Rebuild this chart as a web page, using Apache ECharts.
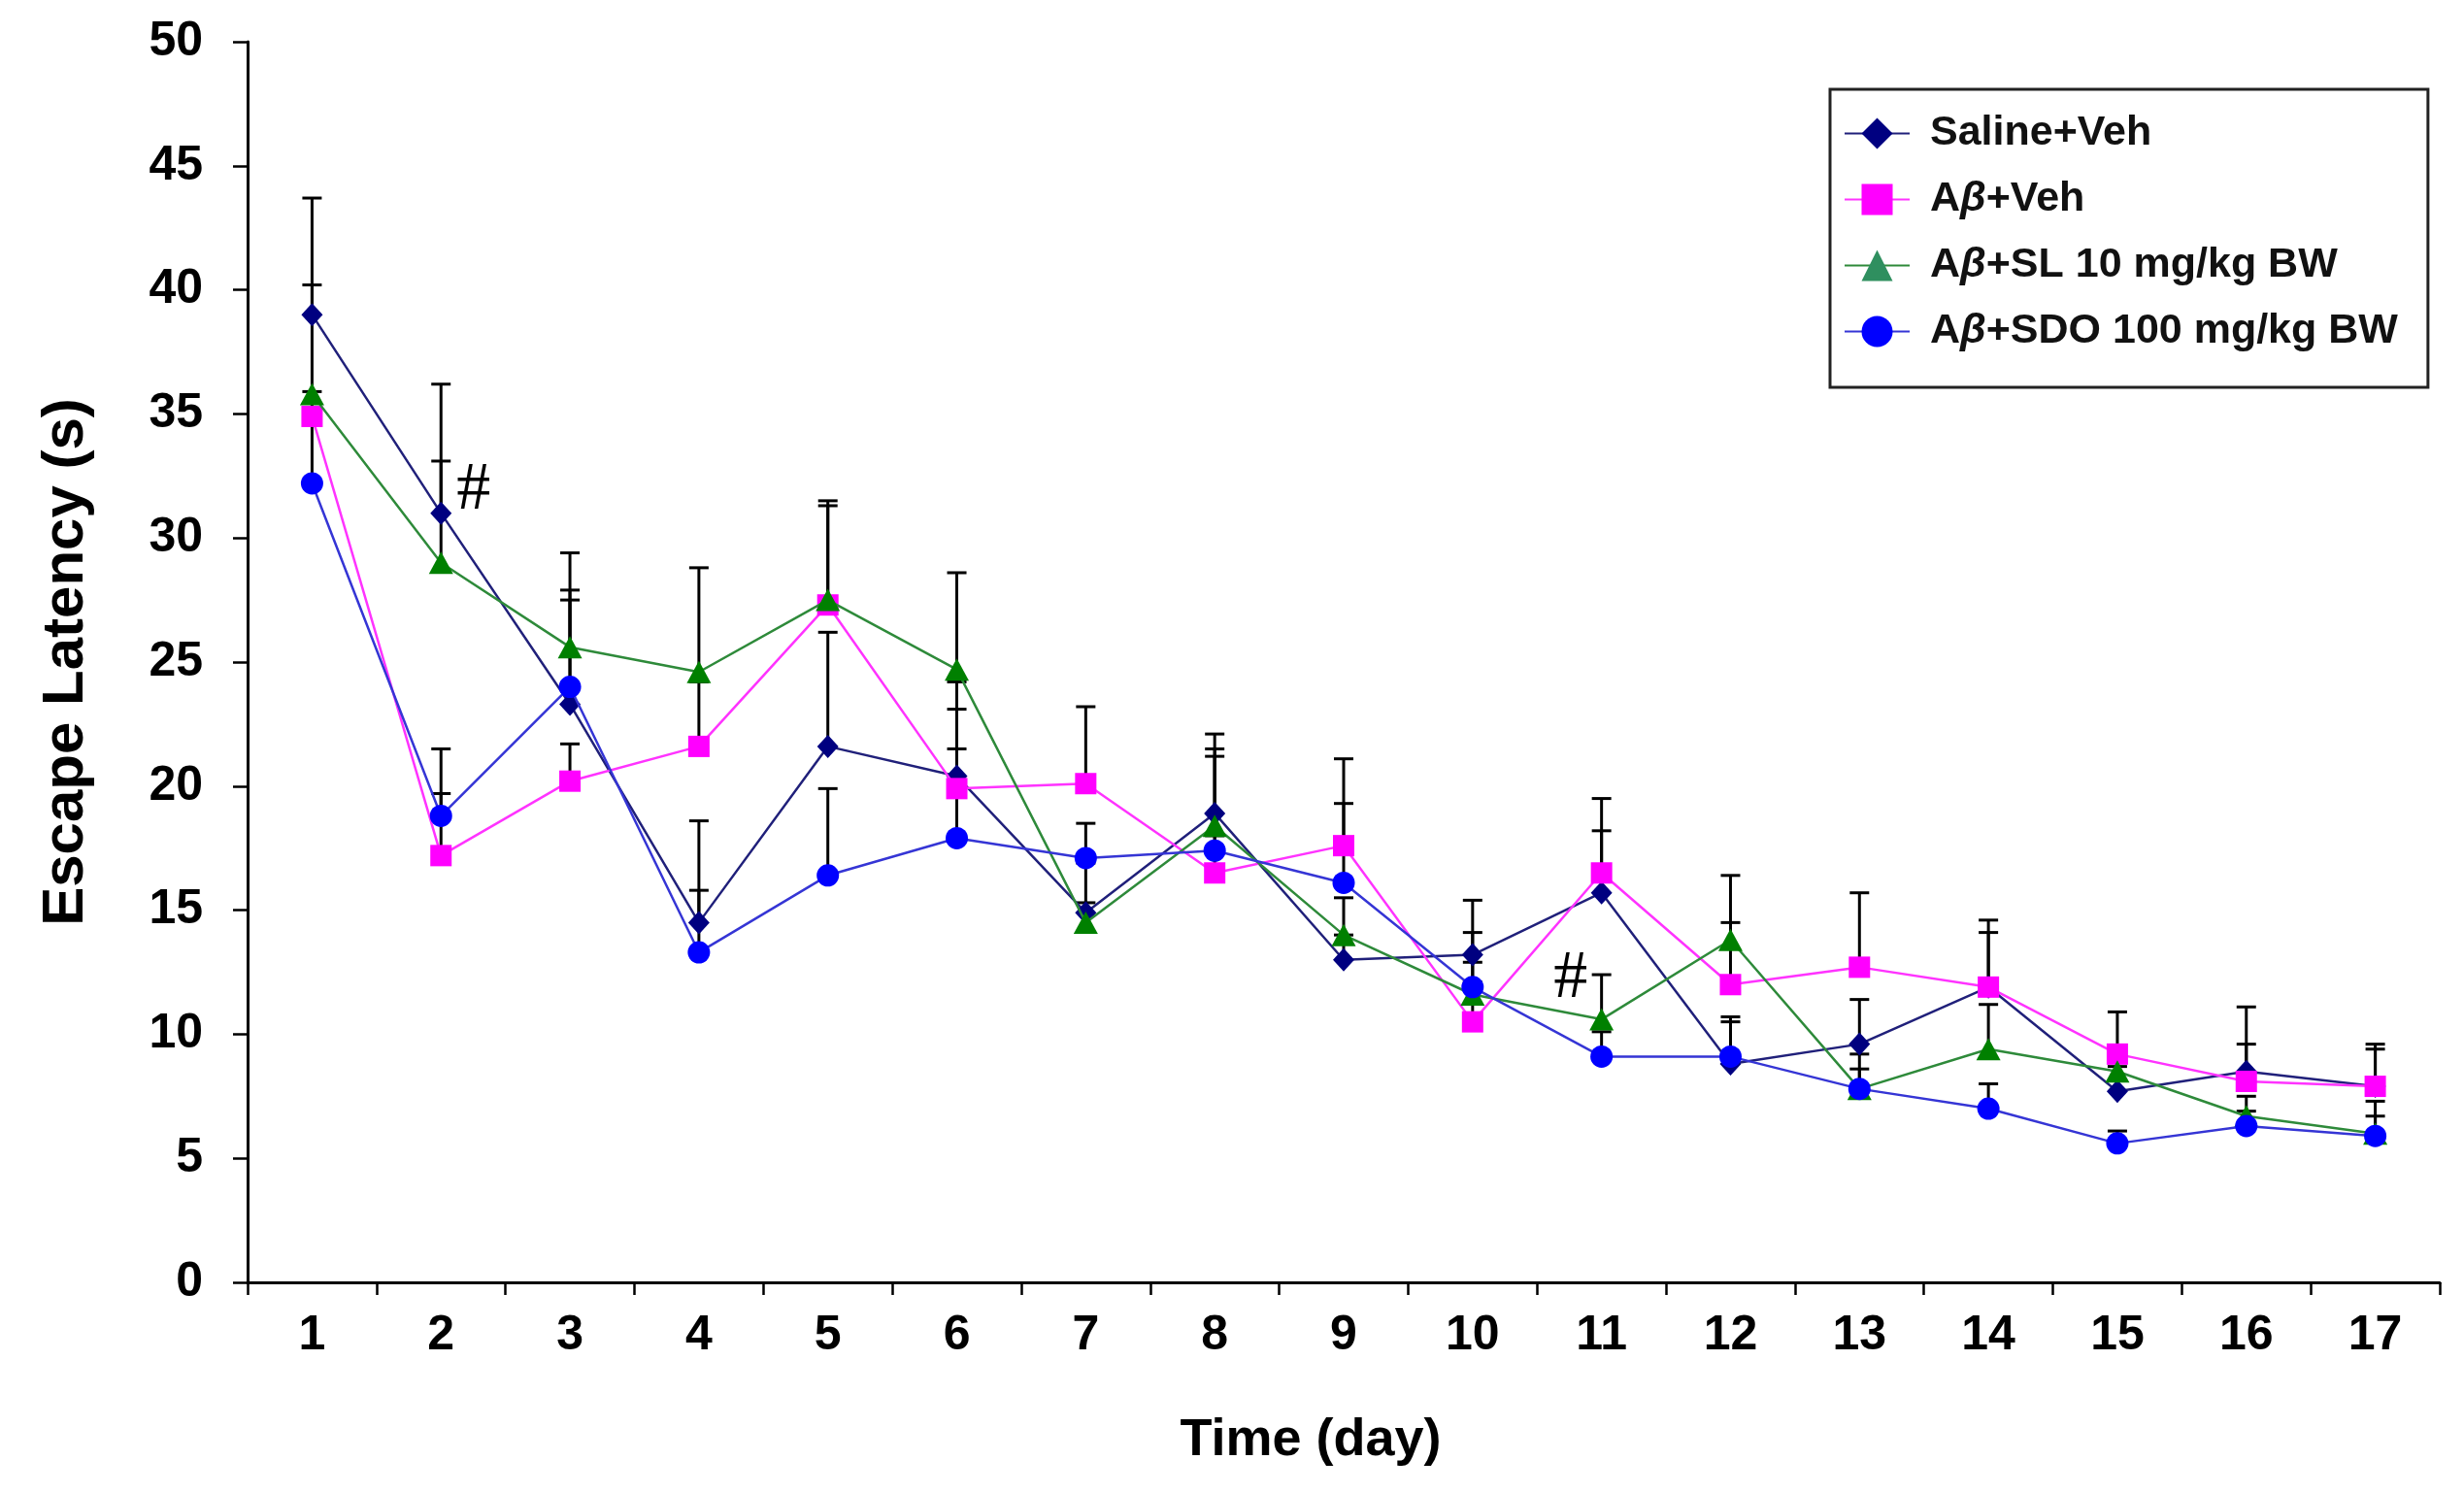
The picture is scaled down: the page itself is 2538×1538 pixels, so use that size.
<!DOCTYPE html>
<html>
<head>
<meta charset="utf-8">
<script src="https://cdn.jsdelivr.net/npm/echarts@6/dist/echarts.min.js"></script>
<style>html,body{margin:0;padding:0;background:#fff}#c{width:2538px;height:1538px}</style>
</head>
<body>
<div id="c"></div>
<script>
const days = ['1','2','3','4','5','6','7','8','9','10','11','12','13','14','15','16','17'];
const seriesNames = ['Saline+Veh', 'Aβ+Veh', 'Aβ+SL 10 mg/kg BW', 'Aβ+SDO 100 mg/kg BW'];
const salineVeh    = [39.0,31.0,23.3,14.5,21.6,20.4,14.9,18.9,13.0,13.2,15.7,8.8,9.6,11.9,7.7,8.5,7.9];
const salineVehErr = [4.7,5.2,4.6,4.1,4.6,2.7,2.0,3.2,1.0,0.9,2.5,1.7,1.8,2.2,1.0,2.6,1.5];
const abVeh        = [34.9,17.2,20.2,21.6,27.3,19.9,20.1,16.5,17.6,10.5,16.5,12.0,12.7,11.9,9.2,8.1,7.9];
const abVehErr     = [1.0,2.5,1.5,2.6,4.0,4.3,3.1,1.5,3.5,4.9,3.0,2.5,3.0,2.7,1.7,1.5,1.7];
const abSL         = [35.8,29.0,25.6,24.6,27.5,24.7,14.5,18.4,14.0,11.6,10.6,13.8,7.8,9.4,8.5,6.7,6.0];
const abSLErr      = [4.4,4.1,3.8,4.2,4.0,3.9,0.8,3.1,1.5,0.5,1.8,2.6,1.4,1.8,1.0,0.8,1.3];
const abSDO        = [32.2,18.8,24.0,13.3,16.4,17.9,17.1,17.4,16.1,11.9,9.1,9.1,7.8,7.0,5.6,6.3,5.9];
const abSDOErr     = [2.5,2.7,3.5,2.5,3.5,3.6,1.4,3.8,3.2,1.0,1.0,1.6,0.8,1.0,0.5,0.6,0.8];
const yTicks = {min: 0, max: 50, interval: 5};
// significance marks: [series index, day index, text]
const marks = [[0, 1, '#'], [2, 10, '#']];

const means = [salineVeh, abVeh, abSL, abSDO];
const errs = [salineVehErr, abVehErr, abSLErr, abSDOErr];
const markerColors = ['#000080', '#FF00FF', '#008000', '#0000FF'];
const legendColors = ['#000080', '#FF00FF', '#2f8f5f', '#0000FF'];
const lineColors = ['#20207a', '#FF33FF', '#2e8a3a', '#3535d5'];
const symbols = ['diamond', 'rect', 'triangle', 'circle'];
const symbolSizes = [[22,24], 22, [25,23], 23];
const markLabelStyle = [
  {position: 'right', offset: [0, -23]},
  null,
  {position: 'left', offset: [3, -41]},
  null
];

const narrow = '"Liberation Sans Narrow", "Liberation Sans", Arial, sans-serif';
const sans = '"Liberation Sans", Arial, sans-serif';

const series = [];
means.forEach((arr, si) => {
  series.push({
    type: 'custom',
    name: 'err' + si,
    silent: true,
    z: 1,
    data: arr.map((v, i) => [i, v, errs[si][i]]),
    renderItem: function (params, api) {
      const x = api.value(0), m = api.value(1), e = api.value(2);
      const p0 = api.coord([x, m]);
      const p1 = api.coord([x, m + e]);
      const st = {stroke: '#000', lineWidth: 3};
      return {
        type: 'group',
        children: [
          {type: 'line', shape: {x1: p0[0], y1: p0[1], x2: p1[0], y2: p1[1]}, style: st},
          {type: 'line', shape: {x1: p1[0] - 10, y1: p1[1], x2: p1[0] + 10, y2: p1[1]}, style: st}
        ]
      };
    }
  });
});
means.forEach((arr, si) => {
  const data = arr.map((v, i) => {
    const mk = marks.find(m => m[0] === si && m[1] === i);
    if (!mk) return v;
    const ls = markLabelStyle[si];
    return {
      value: v,
      label: {
        show: true, formatter: mk[2], position: ls.position, offset: ls.offset,
        fontSize: 70, fontFamily: '"Liberation Serif", serif', color: '#000'
      }
    };
  });
  series.push({
    type: 'line',
    name: seriesNames[si],
    data: data,
    z: 3 + si,
    symbol: symbols[si],
    symbolSize: symbolSizes[si],
    showAllSymbol: true,
    itemStyle: {color: markerColors[si]},
    lineStyle: {color: lineColors[si], width: 2.5},
    emphasis: {disabled: true},
    animation: false
  });
});

const chart = echarts.init(document.getElementById('c'));
chart.setOption({
  animation: false,
  backgroundColor: '#fff',
  grid: {left: 255, right: 25, top: 43, bottom: 217, containLabel: false},
  legend: {
    orient: 'vertical',
    left: 1885, top: 92,
    padding: [24, 31, 36, 14],
    borderColor: '#222', borderWidth: 3,
    backgroundColor: '#fff',
    itemWidth: 67, itemHeight: 40, itemGap: 25,
    data: seriesNames.map((n, i) => ({name: n, itemStyle: {color: legendColors[i]}})),
    selectedMode: false,
    formatter: n => n.replace('β', '{i|β}'),
    textStyle: {
      fontSize: 43, fontWeight: 'bold', fontFamily: sans, color: '#111', lineHeight: 43,
      padding: [0, 0, 0, 16],
      rich: {i: {fontSize: 43, fontWeight: 'bold', fontStyle: 'italic', fontFamily: sans, color: '#111', lineHeight: 43}}
    }
  },
  xAxis: {
    type: 'category',
    data: days,
    boundaryGap: true,
    name: 'Time (day)',
    nameLocation: 'middle',
    nameGap: 136,
    nameTextStyle: {fontSize: 54, fontWeight: 'bold', fontFamily: narrow, color: '#000', padding: [0, 68, 0, 0]},
    axisLine: {lineStyle: {color: '#000', width: 3}},
    axisTick: {show: true, alignWithLabel: false, length: 13, lineStyle: {color: '#000', width: 2.5}},
    axisLabel: {fontSize: 50, fontWeight: 'bold', fontFamily: narrow, color: '#000', margin: 30, interval: 0},
    splitLine: {show: false}
  },
  yAxis: {
    type: 'value',
    min: yTicks.min, max: yTicks.max, interval: yTicks.interval,
    name: 'Escape Latency (s)',
    nameLocation: 'middle',
    nameGap: 157,
    nameTextStyle: {fontSize: 60, fontWeight: 'bold', fontFamily: sans, color: '#000'},
    axisLine: {show: true, lineStyle: {color: '#000', width: 3}},
    axisTick: {show: true, length: 15, lineStyle: {color: '#000', width: 2.5}},
    axisLabel: {fontSize: 50, fontWeight: 'bold', fontFamily: narrow, color: '#000', margin: 46},
    splitLine: {show: false}
  },
  series: series
});
</script>
</body>
</html>
